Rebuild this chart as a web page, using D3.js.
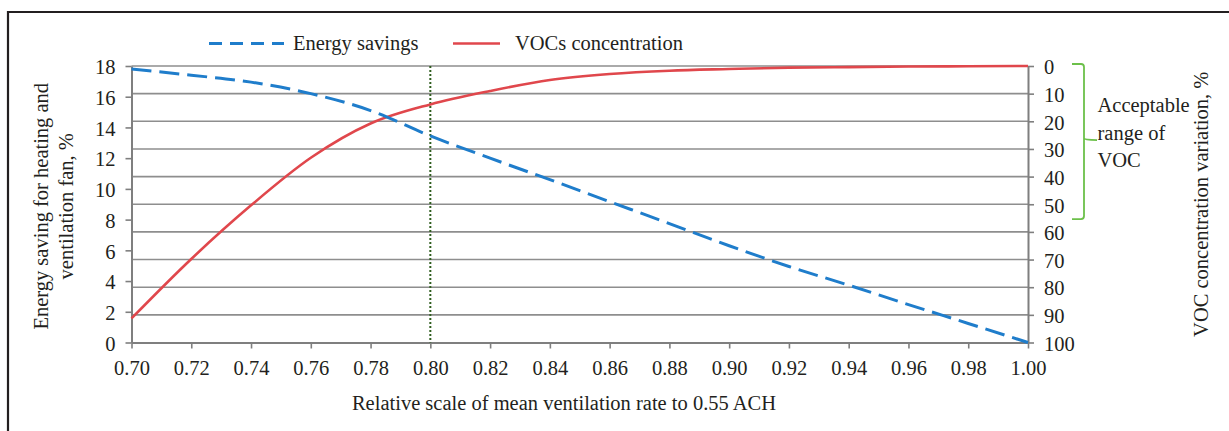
<!DOCTYPE html>
<html>
<head>
<meta charset="utf-8">
<script src="https://cdn.jsdelivr.net/npm/d3@7"></script>
<style>
  html, body { margin: 0; padding: 0; background: #fff; }
  svg { display: block; }
  text { font-family: "Liberation Serif", "Times New Roman", serif; fill: #231f20; }
</style>
</head>
<body>
<svg id="chart" width="1229" height="431"></svg>
<script>
// ---- data ----
const ventilationRates = [0.70, 0.72, 0.74, 0.76, 0.78, 0.80, 0.82, 0.84, 0.86, 0.88, 0.90, 0.92, 0.94, 0.96, 0.98, 1.00];
const energySavings    = [17.8, 17.4, 16.95, 16.2, 15.1, 13.45, 12.0, 10.6, 9.17, 7.74, 6.3, 4.95, 3.73, 2.47, 1.24, 0.0];
const vocVariation     = [91.3, 69.8, 50.4, 33.2, 20.8, 13.9, 9.05, 5.07, 2.9, 1.7, 1.1, 0.6, 0.4, 0.2, 0.1, 0.0];
const xTicks     = [0.70, 0.72, 0.74, 0.76, 0.78, 0.80, 0.82, 0.84, 0.86, 0.88, 0.90, 0.92, 0.94, 0.96, 0.98, 1.00];
const leftTicks  = [0, 2, 4, 6, 8, 10, 12, 14, 16, 18];
const rightTicks = [0, 10, 20, 30, 40, 50, 60, 70, 80, 90, 100];
const markerRate = 0.80;
const acceptableRange = [0, 55];
const legendLabels = ["Energy savings", "VOCs concentration"];
const annotationLines = ["Acceptable", "range of", "VOC"];

// ---- layout ----
const svg = d3.select("#chart");
const L = 131.5, R = 1028, T = 66, B = 342.5;
const x  = d3.scaleLinear().domain([0.70, 1.00]).range([L, R]);
const yL = d3.scaleLinear().domain([0, 18]).range([B, T]);
const yR = d3.scaleLinear().domain([0, 100]).range([T, B]);

const blue = "#1f7dcb", red = "#e0474c", grid = "#8e8e8e", axisCol = "#7f7f7f";
const FS = 20.5;

// frame
svg.append("path").attr("d", `M8,431 V12 H1229`).attr("fill", "none")
  .attr("stroke", "#231f20").attr("stroke-width", 2.2);

// gridlines (from right axis)
svg.append("g").selectAll("line").data(rightTicks.filter(d => d < 100)).join("line")
  .attr("x1", L).attr("x2", R).attr("y1", d => yR(d)).attr("y2", d => yR(d))
  .attr("stroke", grid).attr("stroke-width", 1.6);

// axes
function styleAxis(g) {
  g.select(".domain").attr("stroke", axisCol).attr("stroke-width", 2);
  g.selectAll(".tick line").attr("stroke", axisCol).attr("stroke-width", 1.6);
  g.selectAll(".tick text").attr("font-size", FS).attr("font-family", "Liberation Serif, serif").attr("fill", "#231f20");
}
svg.append("g").attr("transform", `translate(0,${B})`)
  .call(d3.axisBottom(x).tickValues(xTicks).tickFormat(d3.format(".2f")).tickSizeInner(6).tickSizeOuter(0).tickPadding(12))
  .call(styleAxis);
svg.append("g").attr("transform", `translate(${L},0)`)
  .call(d3.axisLeft(yL).tickValues(leftTicks).tickSizeInner(6).tickSizeOuter(0).tickPadding(10))
  .call(styleAxis)
  .call(g => g.selectAll(".tick text").attr("dy", "0.38em"));
svg.append("g").attr("transform", `translate(${R},0)`)
  .call(d3.axisRight(yR).tickValues(rightTicks).tickSizeInner(6).tickSizeOuter(0).tickPadding(10))
  .call(styleAxis)
  .call(g => g.selectAll(".tick text").attr("dy", "0.38em"));

// vertical marker
svg.append("line").attr("x1", x(markerRate)).attr("x2", x(markerRate)).attr("y1", T).attr("y2", B)
  .attr("stroke", "#2f5d1e").attr("stroke-width", 2).attr("stroke-dasharray", "2,2");

// series
const lineE = d3.line().x((d, i) => x(ventilationRates[i])).y(d => yL(d)).curve(d3.curveMonotoneX);
const lineV = d3.line().x((d, i) => x(ventilationRates[i])).y(d => yR(d)).curve(d3.curveMonotoneX);
svg.append("path").attr("d", lineV(vocVariation)).attr("fill", "none")
  .attr("stroke", red).attr("stroke-width", 2.6);
svg.append("path").attr("d", lineE(energySavings)).attr("fill", "none")
  .attr("stroke", blue).attr("stroke-width", 3).attr("stroke-dasharray", "20,8");

// legend
const leg = svg.append("g");
leg.append("line").attr("x1", 209).attr("x2", 284).attr("y1", 43.5).attr("y2", 43.5)
  .attr("stroke", blue).attr("stroke-width", 3).attr("stroke-dasharray", "13,8");
leg.append("text").attr("x", 293).attr("y", 50).attr("font-size", FS).text(legendLabels[0]);
leg.append("line").attr("x1", 453).attr("x2", 500).attr("y1", 43.5).attr("y2", 43.5)
  .attr("stroke", red).attr("stroke-width", 2.6);
leg.append("text").attr("x", 515).attr("y", 50).attr("font-size", FS).text(legendLabels[1]);

// axis titles
svg.append("text").attr("x", 564).attr("y", 410).attr("text-anchor", "middle").attr("font-size", FS)
  .text("Relative scale of mean ventilation rate to 0.55 ACH");
const lt = svg.append("text").attr("transform", `translate(0,${(T + B) / 2 + 2}) rotate(-90)`)
  .attr("text-anchor", "middle").attr("font-size", FS);
lt.append("tspan").attr("x", 0).attr("y", 48).text("Energy saving for heating and");
lt.append("tspan").attr("x", 0).attr("y", 73).text("ventilation fan, %");
svg.append("text").attr("transform", `translate(1208,${(T + B) / 2}) rotate(-90)`)
  .attr("text-anchor", "middle").attr("font-size", FS).text("VOC concentration variation, %");

// bracket
const bx0 = R + 44, bx1 = R + 56, bx2 = R + 69;
const yTop = yR(acceptableRange[0]) - 2, yBot = yR(acceptableRange[1]) + 1;
const yMid = yR((acceptableRange[0] + acceptableRange[1]) / 2) - 2;
svg.append("path")
  .attr("d", `M${bx0},${yTop} H${bx1 - 3} Q${bx1},${yTop} ${bx1},${yTop + 3} V${yMid - 2} Q${bx1},${yMid} ${bx2},${yMid} ` +
             `M${bx1},${yMid - 2} Q${bx1},${yMid} ${bx1},${yMid + 2} V${yBot - 3} Q${bx1},${yBot} ${bx1 - 3},${yBot} H${bx0}`)
  .attr("fill", "none").attr("stroke", "#6cc04a").attr("stroke-width", 1.8);
svg.append("text").attr("font-size", FS).selectAll("tspan").data(annotationLines).join("tspan")
  .attr("x", 1097.5).attr("y", (d, i) => 112 + i * 27.5).text(d => d);
</script>
</body>
</html>
